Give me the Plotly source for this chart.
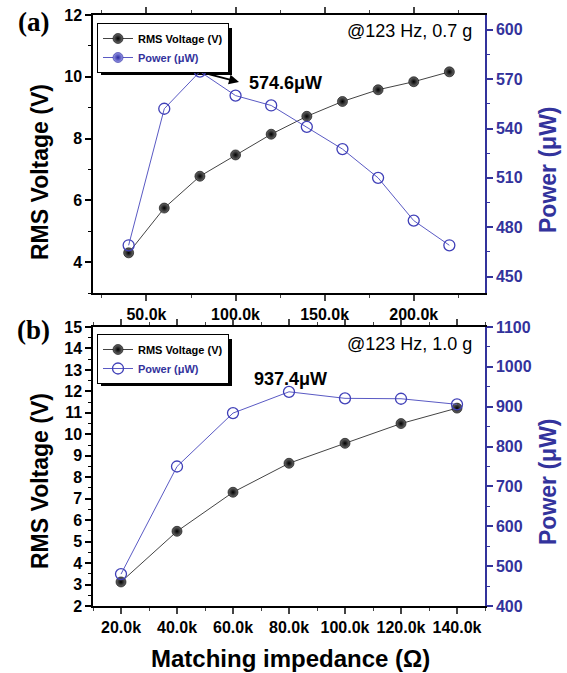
import plotly.graph_objects as go

W, H = 567, 673
BLUE = "#33339c"
LBLUE = "#5a5ac4"
FONT = "Liberation Sans"

# ---------------- data ----------------
a_impedance = [40000, 60000, 80000, 100000, 120000, 140000, 160000, 180000, 200000, 220000]
a_voltage = [4.3, 5.75, 6.78, 7.47, 8.14, 8.72, 9.2, 9.58, 9.84, 10.16]
a_power = [469, 552, 574.6, 560, 554, 541, 527.5, 510, 484, 469]

b_impedance = [20000, 40000, 60000, 80000, 100000, 120000, 140000]
b_voltage = [3.12, 5.48, 7.3, 8.65, 9.58, 10.5, 11.22]
b_power = [480, 750, 884, 937.4, 921, 920, 906]

a_xticks = [50000, 100000, 150000, 200000]
a_xlabels = ["50.0k", "100.0k", "150.0k", "200.0k"]
b_xticks = [20000, 40000, 60000, 80000, 100000, 120000, 140000]
b_xlabels = ["20.0k", "40.0k", "60.0k", "80.0k", "100.0k", "120.0k", "140.0k"]

def px(x):
    return x / W

def py(y):
    return 1 - y / H

sphere = dict(symbol="circle", size=10, color="#6a6a6a",
              gradient=dict(type="radial", color="#000000"),
              line=dict(color="#000000", width=0.6))
open_c = dict(symbol="circle-open", size=11, color="#4040b8", line=dict(width=1.3))
blue_sphere = dict(symbol="circle", size=10, color="#9a9ae8",
                   gradient=dict(type="radial", color="#2a2aa0"),
                   line=dict(color="#2a2aa0", width=0.6))

fig = go.Figure()

v_name = "RMS Voltage (V)"
p_name = "<span style='color:%s'>Power (μW)</span>" % BLUE

# panel (a)
fig.add_trace(go.Scatter(x=a_impedance, y=a_power, xaxis="x", yaxis="y2", mode="lines+markers",
                         line=dict(color=LBLUE, width=1), marker=open_c, showlegend=False))
fig.add_trace(go.Scatter(x=a_impedance, y=a_voltage, xaxis="x", yaxis="y", mode="lines+markers",
                         name=v_name, line=dict(color="#444444", width=1), marker=sphere,
                         legend="legend"))
fig.add_trace(go.Scatter(x=[None], y=[None], xaxis="x", yaxis="y2", mode="lines+markers",
                         name=p_name, line=dict(color=LBLUE, width=1), marker=blue_sphere,
                         legend="legend"))

# panel (b)
fig.add_trace(go.Scatter(x=b_impedance, y=b_power, xaxis="x2", yaxis="y4", mode="lines+markers",
                         line=dict(color=LBLUE, width=1), marker=open_c, showlegend=False))
fig.add_trace(go.Scatter(x=b_impedance, y=b_voltage, xaxis="x2", yaxis="y3", mode="lines+markers",
                         name=v_name, line=dict(color="#444444", width=1), marker=sphere,
                         legend="legend2"))
fig.add_trace(go.Scatter(x=[None], y=[None], xaxis="x2", yaxis="y4", mode="lines+markers",
                         name=p_name, line=dict(color=LBLUE, width=1), marker=open_c,
                         legend="legend2"))

tickfont = dict(family=FONT, size=16, color="black", weight="bold")
btickfont = dict(family=FONT, size=16, color=BLUE, weight="bold")

def xax(rng, tv, tt, anchor, minor_dt):
    return dict(domain=[px(93), px(485)], range=rng, anchor=anchor, tickvals=tv, ticktext=tt,
                ticks="outside", ticklen=6, tickwidth=1.5, showline=True, linewidth=1.5,
                linecolor="black", mirror="ticks", showgrid=False, zeroline=False,
                tickfont=tickfont, automargin=False,
                minor=dict(ticks="outside", ticklen=3.5, tickwidth=1.2, dtick=minor_dt, tick0=0,
                           showgrid=False))

def yax(dom, rng, dt, minor_dt, anchor, color="black", side="left", overlay=None):
    d = dict(domain=dom, range=rng, anchor=anchor, dtick=dt, tick0=0, ticks="outside",
             ticklen=6, tickwidth=1.5, tickcolor=color, showline=True, linewidth=1.5,
             linecolor=color, showgrid=False, zeroline=False, side=side, automargin=False,
             tickfont=tickfont if color == "black" else btickfont,
             minor=dict(ticks="outside", ticklen=3.5, tickwidth=1.2, dtick=minor_dt, tick0=0,
                        tickcolor=color, showgrid=False))
    if overlay:
        d["overlaying"] = overlay
    return d

dom_a = [py(293), py(15)]
dom_b = [py(606), py(327)]

legend_common = dict(xanchor="left", yanchor="top", bgcolor="white", bordercolor="black",
                     borderwidth=1, font=dict(family=FONT, size=11, color="black", weight="bold"),
                     itemwidth=30, tracegroupgap=0)

def ann(text, x, y, size, color="black", weight="bold", family=FONT, xanchor="center",
        angle=0):
    return dict(text=text, x=px(x), y=py(y), xref="paper", yref="paper", showarrow=False,
                xanchor=xanchor, yanchor="middle", textangle=angle,
                font=dict(family=family, size=size, color=color, weight=weight))

annotations = [
    ann("(a)", 33, 22, 27, family="Liberation Serif"),
    ann("(b)", 33, 330, 27, family="Liberation Serif"),
    ann("@123 Hz, 0.7 g", 474, 31, 18, weight="normal", xanchor="right"),
    ann("@123 Hz, 1.0 g", 474, 344, 18, weight="normal", xanchor="right"),
    ann("574.6μW", 247, 83, 18, xanchor="left"),
    ann("937.4μW", 252, 379, 18, xanchor="left"),
    ann("RMS Voltage (V)", 40, 172, 23, angle=-90),
    ann("RMS Voltage (V)", 40, 481, 23, angle=-90),
    ann("Power (μW)", 548, 170, 23, color=BLUE, angle=-90),
    ann("Power (μW)", 548, 482, 23, color=BLUE, angle=-90),
    ann("Matching impedance (Ω)", 290, 658, 24),
    dict(text="", x=px(239), y=py(82), xref="paper", yref="paper", showarrow=True,
         ax=-31, ay=-8, arrowhead=2, arrowsize=1, arrowwidth=2, arrowcolor="black"),
]

shapes = [
    dict(type="rect", xref="paper", yref="paper", x0=px(101), x1=px(232), y0=py(75), y1=py(28),
         fillcolor="black", line=dict(width=0), layer="below"),
    dict(type="rect", xref="paper", yref="paper", x0=px(101), x1=px(232), y0=py(386), y1=py(339),
         fillcolor="black", line=dict(width=0), layer="below"),
]

fig.update_layout(
    width=W, height=H, margin=dict(l=0, r=0, t=0, b=0, autoexpand=False),
    paper_bgcolor="white", plot_bgcolor="rgba(0,0,0,0)",
    xaxis=xax([20000, 240000], a_xticks, a_xlabels, "y", 25000),
    yaxis=yax(dom_a, [3, 12], 2, 1, "x"),
    yaxis2=yax(dom_a, [440, 609], 30, 15, "x", color=BLUE, side="right", overlay="y"),
    xaxis2=xax([10000, 150000], b_xticks, b_xlabels, "y3", 10000),
    yaxis3=yax(dom_b, [2, 15], 1, 0.5, "x2"),
    yaxis4=yax(dom_b, [400, 1100], 100, 50, "x2", color=BLUE, side="right", overlay="y3"),
    legend=dict(x=px(97), y=py(23), **legend_common),
    legend2=dict(x=px(97), y=py(334), **legend_common),
    annotations=annotations,
    shapes=shapes,
)

fig.write_html("out.html")
